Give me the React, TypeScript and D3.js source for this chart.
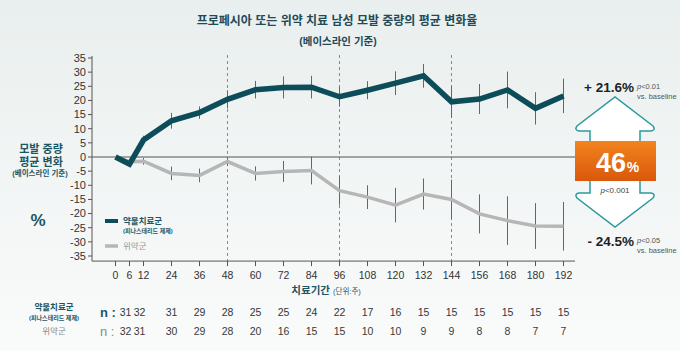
import * as d3 from 'd3'

const WEEKS = [0, 6, 12, 24, 36, 48, 60, 72, 84, 96, 108, 120, 132, 144, 156, 168, 180, 192]
const DRUG = [0, -2.5, 6, 12.8, 15.7, 20.4, 23.8, 24.6, 24.7, 21.3, 23.6, 26.1, 28.7, 19.5, 20.5, 23.7, 17.2, 21.6]
const DRUG_ERR = [0, 1, 1.5, 2.8, 2.2, 3.2, 3.1, 3.9, 4.0, 3.5, 3.2, 4.2, 4.2, 5.6, 5.3, 6.5, 5.7, 6.1]
const PLACEBO = [0, -1.7, -1.5, -5.8, -6.5, -1.6, -5.8, -5.1, -4.8, -11.9, -14.2, -17, -13.1, -15, -20.1, -22.5, -24.4, -24.5]
const PLACEBO_ERR = [0, 1, 1.2, 2.4, 2.4, 1.6, 2.5, 3.7, 4.9, 5, 4.2, 6.1, 5.5, 7, 6.9, 8.6, 8.1, 8.6]
const DASHED_WEEKS = [48, 96, 144]
const Y_TICKS = d3.range(-35, 36, 5)

// n per visit, starting at week 6
const N_WEEKS = WEEKS.slice(1)
const N_DRUG = [31, 32, 31, 29, 28, 25, 25, 24, 22, 17, 16, 15, 15, 15, 15, 15, 15]
const N_PLACEBO = [32, 31, 30, 29, 28, 20, 16, 15, 15, 10, 10, 9, 9, 8, 8, 7, 7]

const W = 680
const H = 351
const FONT = 'Arial, "Liberation Sans", "Noto Sans CJK KR", sans-serif'
const TEAL = '#0d4d5a'
const TEXT_TEAL = '#1d5663'
const GRAY = '#b6b6b6'
const AXIS = '#555'
const ARROW = '#2b9a9c'

export default function App() {
  const x = d3.scaleLinear().domain([0, 192]).range([115.5, 563.5])
  const y = d3.scaleLinear().domain([-35, 35]).range([256, 58])
  const axisX = 92
  const axisBottom = y(-36.8)
  const plotRight = 575

  const drugPts: [number, number][] = WEEKS.map((w, i) => [w, DRUG[i]])
  const placeboPts: [number, number][] = WEEKS.map((w, i) => [w, PLACEBO[i]])
  const line = d3.line<[number, number]>().x((d) => x(d[0])).y((d) => y(d[1]))

  const drugEnd = DRUG[DRUG.length - 1]
  const placeboEnd = PLACEBO[PLACEBO.length - 1]
  const diff = Math.round(drugEnd - placeboEnd)

  return (
    <svg width={W} height={H} style={{ position: 'absolute', left: 0, top: 0 }} fontFamily={FONT}>
      <defs>
        <linearGradient id="bg" x1="0" y1="0" x2="0" y2="1">
          <stop offset="0" stopColor="#e9efee" />
          <stop offset="1" stopColor="#fafbfb" />
        </linearGradient>
        <linearGradient id="box" x1="0" y1="0" x2="0" y2="1">
          <stop offset="0" stopColor="#f3831f" />
          <stop offset="1" stopColor="#d9580b" />
        </linearGradient>
      </defs>
      <rect width={W} height={H} fill="url(#bg)" />

      {/* title */}
      <text x={337} y={25} textAnchor="middle" fontSize={12} fontWeight={700} fill="#1f4a56">
        프로페시아 또는 위약 치료 남성 모발 중량의 평균 변화율
      </text>
      <text x={338} y={45} textAnchor="middle" fontSize={10.5} fontWeight={700} fill="#1f4a56">
        (베이스라인 기준)
      </text>

      {/* left label */}
      <text x={41} y={153} textAnchor="middle" fontSize={11} fontWeight={700} fill={TEXT_TEAL}>모발 중량</text>
      <text x={41} y={166} textAnchor="middle" fontSize={11} fontWeight={700} fill={TEXT_TEAL}>평균 변화</text>
      <text x={40} y={176} textAnchor="middle" fontSize={7.5} fontWeight={700} fill={TEXT_TEAL}>(베이스라인 기준)</text>
      <text x={38} y={226} textAnchor="middle" fontSize={17} fontWeight={700} fill={TEXT_TEAL}>%</text>

      {/* dashed reference lines */}
      {DASHED_WEEKS.map((w) => (
        <line key={w} x1={x(w)} x2={x(w)} y1={55} y2={axisBottom}
          stroke="#8a8a8a" strokeWidth={1} strokeDasharray="3,3" />
      ))}

      {/* y axis */}
      <line x1={axisX} x2={axisX} y1={56} y2={axisBottom} stroke={AXIS} />
      {Y_TICKS.map((t) => (
        <g key={t}>
          <line x1={axisX - 4} x2={axisX} y1={y(t)} y2={y(t)} stroke={AXIS} />
          <text x={axisX - 6} y={y(t)} dy="0.35em" textAnchor="end" fontSize={11} fill="#333">{t}</text>
        </g>
      ))}

      {/* x axis */}
      <line x1={axisX} x2={plotRight} y1={axisBottom} y2={axisBottom} stroke={AXIS} />
      {WEEKS.map((w) => (
        <g key={w}>
          <line x1={x(w)} x2={x(w)} y1={axisBottom} y2={axisBottom + 5} stroke={AXIS} />
          <text x={x(w)} y={275} dy="0.35em" textAnchor="middle" fontSize={10.5} fill="#333">{w}</text>
        </g>
      ))}
      <text x={330} y={294} textAnchor="end" fontSize={10.5} fontWeight={700} fill={TEXT_TEAL}>치료기간</text>
      <text x={333} y={294} fontSize={7.5} fill={TEXT_TEAL}>(단위:주)</text>

      {/* zero line */}
      <line x1={axisX} x2={plotRight} y1={y(0)} y2={y(0)} stroke={AXIS} />

      {/* placebo */}
      {WEEKS.map((w, i) => PLACEBO_ERR[i] > 0 && (
        <line key={'pe' + w} x1={x(w)} x2={x(w)} y1={y(PLACEBO[i] - PLACEBO_ERR[i])} y2={y(PLACEBO[i] + PLACEBO_ERR[i])}
          stroke="#666" strokeWidth={1} />
      ))}
      <path d={line(placeboPts) ?? ''} fill="none" stroke={GRAY} strokeWidth={3.5} />

      {/* drug */}
      {WEEKS.map((w, i) => DRUG_ERR[i] > 0 && (
        <line key={'de' + w} x1={x(w)} x2={x(w)} y1={y(DRUG[i] - DRUG_ERR[i])} y2={y(DRUG[i] + DRUG_ERR[i])}
          stroke="#666" strokeWidth={1} />
      ))}
      <path d={line(drugPts) ?? ''} fill="none" stroke={TEAL} strokeWidth={5.5} />

      {/* legend */}
      <line x1={105} x2={118} y1={221} y2={221} stroke={TEAL} strokeWidth={4} />
      <text x={123} y={221} dy="0.35em" fontSize={8.5} fontWeight={700} fill={TEXT_TEAL}>약물치료군</text>
      <text x={123} y={231} dy="0.35em" fontSize={6} fontWeight={700} fill={TEXT_TEAL}>(피나스테리드 제제)</text>
      <line x1={105} x2={118} y1={246} y2={246} stroke={GRAY} strokeWidth={3.5} />
      <text x={123} y={246} dy="0.35em" fontSize={8.5} fill="#999">위약군</text>

      {/* n table */}
      <text x={54} y={307} dy="0.35em" textAnchor="middle" fontSize={8.5} fontWeight={700} fill={TEXT_TEAL}>약물치료군</text>
      <text x={54} y={318} dy="0.35em" textAnchor="middle" fontSize={6} fontWeight={700} fill={TEXT_TEAL}>(피나스테리드 제제)</text>
      <text x={100} y={312} dy="0.35em" fontSize={13} fontWeight={700} fill={TEXT_TEAL}>n :</text>
      {N_WEEKS.map((w, i) => (
        <text key={'nd' + w} x={x(w) - (i < 2 ? 4 : 0)} y={312} dy="0.35em" textAnchor="middle" fontSize={10.5} fill="#2a3a3e">{N_DRUG[i]}</text>
      ))}
      <text x={54} y={331} dy="0.35em" textAnchor="middle" fontSize={8.5} fill="#8a8a8a">위약군</text>
      <text x={100} y={331} dy="0.35em" fontSize={13} fill="#8a8a8a">n :</text>
      {N_WEEKS.map((w, i) => (
        <text key={'np' + w} x={x(w) - (i < 2 ? 4 : 0)} y={331} dy="0.35em" textAnchor="middle" fontSize={10.5} fill="#3a3a3a">{N_PLACEBO[i]}</text>
      ))}

      {/* right annotation */}
      <path d="M590,142 L590,131 L579,131 Q574,130 577,126 L615,97 L653,126 Q656,130 651,131 L640,131 L640,142"
        fill="#fff" stroke={ARROW} strokeWidth={1.5} />
      <path d="M590,180 L590,193 L579,193 Q574,194 577,198 L615,227 L653,198 Q656,194 651,193 L640,193 L640,180"
        fill="#fff" stroke={ARROW} strokeWidth={1.5} />
      <rect x={575} y={141} width={81} height={40} fill="url(#box)" />
      <text x={611} y={172} textAnchor="middle" fontSize={27} fontWeight={700} fill="#fff">{diff}</text>
      <text x={633} y={172} textAnchor="middle" fontSize={14} fontWeight={700} fill="#fff">%</text>
      <text x={615} y={190} dy="0.35em" textAnchor="middle" fontSize={8} fill="#444">
        <tspan fontStyle="italic">p</tspan>&lt;0.001
      </text>

      <text x={634} y={87} dy="0.35em" textAnchor="end" fontSize={13.5} fontWeight={700} fill="#222">
        + {drugEnd.toFixed(1)}%
      </text>
      <text x={637} y={86} dy="0.35em" fontSize={7.5} fill="#555"><tspan fontStyle="italic">p</tspan>&lt;0.01</text>
      <text x={637} y={96} dy="0.35em" fontSize={7.5} fill="#555">vs. baseline</text>

      <text x={634} y={241} dy="0.35em" textAnchor="end" fontSize={13.5} fontWeight={700} fill="#222">
        - {Math.abs(placeboEnd).toFixed(1)}%
      </text>
      <text x={637} y={240} dy="0.35em" fontSize={7.5} fill="#555"><tspan fontStyle="italic">p</tspan>&lt;0.05</text>
      <text x={637} y={250} dy="0.35em" fontSize={7.5} fill="#555">vs. baseline</text>
    </svg>
  )
}
